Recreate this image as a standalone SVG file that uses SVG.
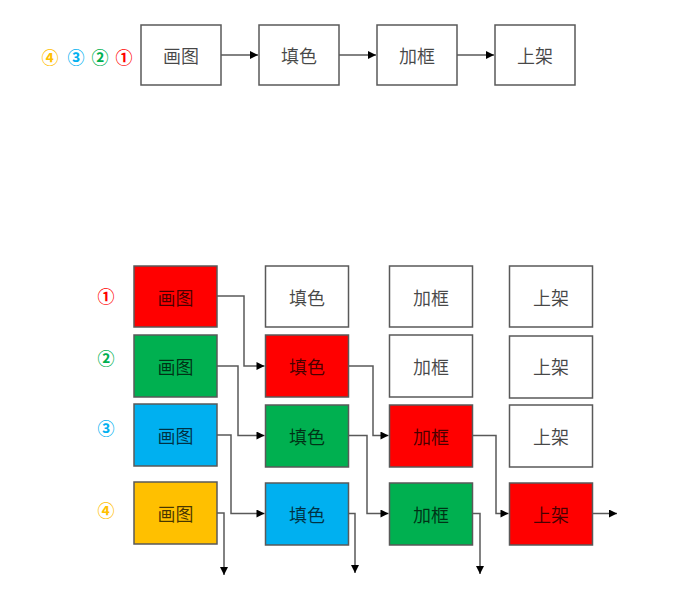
<svg xmlns="http://www.w3.org/2000/svg" width="696" height="608" viewBox="0 0 696 608">
<style>
.box{stroke:#595959;stroke-width:1.5}
.w{fill:#ffffff}
.r{fill:#ff0000}
.g{fill:#00b050}
.b{fill:#00b0f0}
.y{fill:#ffc000}
.t{font-family:"Noto Sans CJK SC","Noto Sans CJK JP",sans-serif;font-size:18px;fill:#000;fill-opacity:0.72;text-anchor:middle;dominant-baseline:central}
.n{font-family:"Noto Sans CJK SC","DejaVu Sans",sans-serif;font-size:17px;font-weight:bold;text-anchor:middle;dominant-baseline:central}
.c{fill:none;stroke:#595959;stroke-width:1.5}
</style>
<defs>
<marker id="ah" viewBox="0 0 10 10" refX="10" refY="5" markerWidth="9" markerHeight="8" markerUnits="userSpaceOnUse" orient="auto">
<path d="M0,0 L10,5 L0,10 z" fill="#000"/>
</marker>
</defs>
<rect width="696" height="608" fill="#ffffff"/>

<g id="labels-top">
<text class="n" x="50" y="56" fill="#ffc000">④</text>
<text class="n" x="76" y="56" fill="#00b0f0">③</text>
<text class="n" x="100" y="56" fill="#00b050">②</text>
<text class="n" x="124" y="56" fill="#ff0000">①</text>
</g>
<g id="top-1"><rect class="box w" x="141" y="25" width="80" height="60"/><text class="t" x="181" y="55">画图</text></g>
<g id="top-2"><rect class="box w" x="259" y="25" width="80" height="60"/><text class="t" x="299" y="55">填色</text></g>
<g id="top-3"><rect class="box w" x="377" y="25" width="80" height="60"/><text class="t" x="417" y="55">加框</text></g>
<g id="top-4"><rect class="box w" x="495" y="25" width="80" height="60"/><text class="t" x="535" y="55">上架</text></g>

<g id="labels-bottom">
<text class="n" x="106" y="295" fill="#ff0000">①</text>
<text class="n" x="106" y="357" fill="#00b050">②</text>
<text class="n" x="106" y="427" fill="#00b0f0">③</text>
<text class="n" x="106" y="509" fill="#ffc000">④</text>
</g>

<g id="r1c1"><rect class="box r" x="134" y="266" width="83" height="61"/><text class="t" x="175.5" y="296.5">画图</text></g>
<g id="r1c2"><rect class="box w" x="265.5" y="266" width="83" height="61"/><text class="t" x="307" y="296.5">填色</text></g>
<g id="r1c3"><rect class="box w" x="389.5" y="266" width="83" height="61"/><text class="t" x="431" y="296.5">加框</text></g>
<g id="r1c4"><rect class="box w" x="509.5" y="266" width="83" height="61"/><text class="t" x="551" y="296.5">上架</text></g>

<g id="r2c1"><rect class="box g" x="134" y="335" width="83" height="62"/><text class="t" x="175.5" y="366">画图</text></g>
<g id="r2c2"><rect class="box r" x="265.5" y="335" width="83" height="62"/><text class="t" x="307" y="366">填色</text></g>
<g id="r2c3"><rect class="box w" x="389.5" y="335" width="83" height="62"/><text class="t" x="431" y="366">加框</text></g>
<g id="r2c4"><rect class="box w" x="509.5" y="336" width="83" height="62"/><text class="t" x="551" y="366">上架</text></g>

<g id="r3c1"><rect class="box b" x="134" y="404" width="83" height="62"/><text class="t" x="175.5" y="435">画图</text></g>
<g id="r3c2"><rect class="box g" x="265.5" y="405" width="83" height="62"/><text class="t" x="307" y="435.5">填色</text></g>
<g id="r3c3"><rect class="box r" x="389.5" y="405" width="83" height="62"/><text class="t" x="431" y="435.5">加框</text></g>
<g id="r3c4"><rect class="box w" x="509.5" y="405" width="83" height="62"/><text class="t" x="551" y="435.5">上架</text></g>

<g id="r4c1"><rect class="box y" x="134" y="482" width="83" height="62"/><text class="t" x="175.5" y="513">画图</text></g>
<g id="r4c2"><rect class="box b" x="265.5" y="483" width="83" height="62"/><text class="t" x="307" y="513.5">填色</text></g>
<g id="r4c3"><rect class="box g" x="389.5" y="483" width="83" height="62"/><text class="t" x="431" y="513.5">加框</text></g>
<g id="r4c4"><rect class="box r" x="509.5" y="483" width="83" height="62"/><text class="t" x="551" y="513.5">上架</text></g>

<g id="connectors">
<path class="c" d="M221,55 H258" marker-end="url(#ah)"/>
<path class="c" d="M339,55 H376" marker-end="url(#ah)"/>
<path class="c" d="M457,55 H494" marker-end="url(#ah)"/>

<path class="c" d="M217,296 H244 V366 H264.5" marker-end="url(#ah)"/>
<path class="c" d="M217,366 H238 V435.5 H264.5" marker-end="url(#ah)"/>
<path class="c" d="M217,435 H231 V513.5 H264.5" marker-end="url(#ah)"/>
<path class="c" d="M217,513 H224 V575" marker-end="url(#ah)"/>

<path class="c" d="M348.5,366 H373 V435.5 H388.5" marker-end="url(#ah)"/>
<path class="c" d="M348.5,435.5 H367 V513.5 H388.5" marker-end="url(#ah)"/>
<path class="c" d="M348.5,513.5 H355 V573" marker-end="url(#ah)"/>

<path class="c" d="M472.5,435.5 H496 V513.5 H508.5" marker-end="url(#ah)"/>
<path class="c" d="M472.5,513.5 H480 V574" marker-end="url(#ah)"/>

<path class="c" d="M592.5,513.5 H617" marker-end="url(#ah)"/>
</g>
</svg>
